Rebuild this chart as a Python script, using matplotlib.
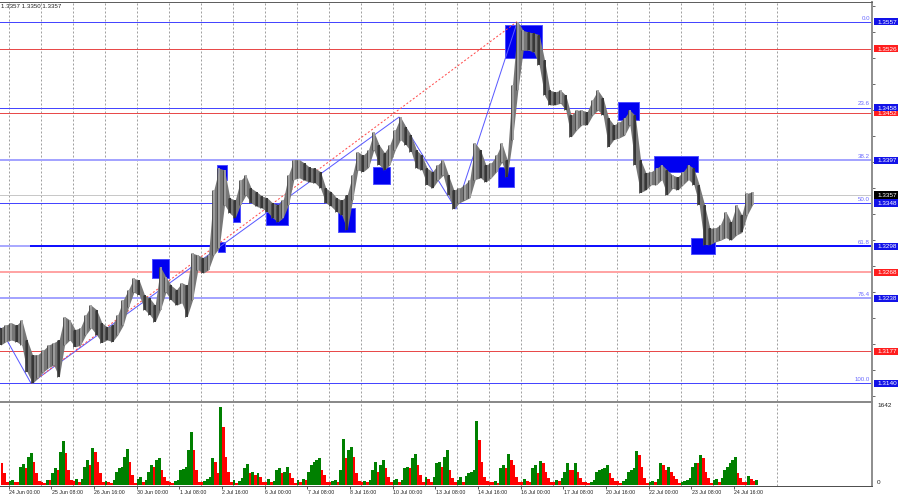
import matplotlib
matplotlib.use('Agg')
import matplotlib.pyplot as plt
import matplotlib.transforms as mtransforms
from matplotlib.patches import Rectangle

# ---------------- data ----------------
# price bars: 4-hour blocks, hours counted from 24 Jun 00:00 (weekends skipped)
bar_start_hour = -8
bar_hours = 4
highs = [1.3204, 1.3207,
         1.3210, 1.3207, 1.3213, 1.3190, 1.3173, 1.3173,
         1.3178, 1.3184, 1.3187, 1.3190, 1.3217, 1.3213,
         1.3202, 1.3204, 1.3219, 1.3230, 1.3225, 1.3210,
         1.3205, 1.3207, 1.3219, 1.3236, 1.3248, 1.3261,
         1.3259, 1.3242, 1.3238, 1.3230, 1.3274, 1.3263,
         1.3253, 1.3248, 1.3256, 1.3253, 1.3290, 1.3288,
         1.3285, 1.3288, 1.3363, 1.3388, 1.3386, 1.3354,
         1.3351, 1.3374, 1.3380, 1.3365, 1.3361, 1.3356,
         1.3354, 1.3348, 1.3346, 1.3351, 1.3380, 1.3398,
         1.3398, 1.3394, 1.3389, 1.3388, 1.3384, 1.3365,
         1.3361, 1.3354, 1.3351, 1.3357, 1.3380, 1.3407,
         1.3403, 1.3409, 1.3430, 1.3415, 1.3406, 1.3415,
         1.3432, 1.3447, 1.3436, 1.3426, 1.3409, 1.3403,
         1.3388, 1.3384, 1.3392, 1.3398, 1.3380, 1.3363,
         1.3365, 1.3369, 1.3375, 1.3417, 1.3409, 1.3392,
         1.3394, 1.3403, 1.3417, 1.3398, 1.3484, 1.3557,
         1.3547, 1.3545, 1.3544, 1.3542, 1.3513, 1.3478,
         1.3476, 1.3478, 1.3472, 1.3449, 1.3455, 1.3455,
         1.3453, 1.3467, 1.3478, 1.3469, 1.3446, 1.3438,
         1.3441, 1.3446, 1.3455, 1.3449, 1.3398, 1.3383,
         1.3384, 1.3388, 1.3392, 1.3386, 1.3380, 1.3378,
         1.3384, 1.3392, 1.3388, 1.3369, 1.3346, 1.3319,
         1.3319, 1.3323, 1.3338, 1.3326, 1.3346, 1.3334,
         1.3359, 1.3361]
lows = [1.3184, 1.3188,
        1.3190, 1.3188, 1.3184, 1.3153, 1.3140, 1.3146,
        1.3153, 1.3158, 1.3161, 1.3147, 1.3184, 1.3190,
        1.3182, 1.3184, 1.3196, 1.3204, 1.3196, 1.3187,
        1.3190, 1.3188, 1.3196, 1.3207, 1.3228, 1.3245,
        1.3242, 1.3225, 1.3219, 1.3211, 1.3225, 1.3245,
        1.3236, 1.3230, 1.3233, 1.3217, 1.3236, 1.3271,
        1.3267, 1.3271, 1.3288, 1.3296, 1.3346, 1.3336,
        1.3331, 1.3346, 1.3357, 1.3348, 1.3344, 1.3342,
        1.3338, 1.3331, 1.3326, 1.3331, 1.3346, 1.3375,
        1.3377, 1.3374, 1.3372, 1.3371, 1.3365, 1.3348,
        1.3344, 1.3338, 1.3334, 1.3317, 1.3351, 1.3386,
        1.3384, 1.3389, 1.3409, 1.3392, 1.3386, 1.3392,
        1.3409, 1.3421, 1.3415, 1.3407, 1.3388, 1.3386,
        1.3369, 1.3365, 1.3374, 1.3380, 1.3357, 1.3341,
        1.3348, 1.3351, 1.3354, 1.3375, 1.3377, 1.3372,
        1.3377, 1.3384, 1.3395, 1.3378, 1.3421, 1.3478,
        1.3524, 1.3524, 1.3522, 1.3507, 1.3472, 1.3461,
        1.3461, 1.3463, 1.3455, 1.3424, 1.3432, 1.3438,
        1.3438, 1.3449, 1.3455, 1.3449, 1.3413, 1.3421,
        1.3423, 1.3426, 1.3438, 1.3392, 1.3360, 1.3363,
        1.3369, 1.3369, 1.3375, 1.3357, 1.3365, 1.3363,
        1.3369, 1.3375, 1.3369, 1.3346, 1.3300, 1.3300,
        1.3303, 1.3305, 1.3308, 1.3305, 1.3311, 1.3314,
        1.3334, 1.3346]

# tick volume: 2-hour blocks
vol_start_hour = -6
vol_hours = 2
volumes = [450, 240, 70,
           90, 105, 70, 70, 380, 437, 345, 590, 660, 485, 240, 90,
           70, 50, 105, 105, 240, 345, 310, 690, 920, 660, 310, 105,
           90, 120, 70, 120, 380, 520, 415, 760, 690, 485, 240, 70,
           90, 70, 50, 105, 280, 345, 380, 590, 740, 485, 210, 50,
           120, 160, 70, 105, 280, 415, 380, 520, 555, 310, 175, 90,
           70, 50, 90, 105, 310, 330, 365, 730, 1100, 730, 310, 70,
           70, 90, 120, 175, 555, 485, 240, 1628, 1210, 590, 280, 70,
           105, 50, 90, 140, 345, 430, 240, 280, 210, 255, 175, 70,
           70, 120, 70, 90, 310, 345, 240, 280, 365, 240, 140, 50,
           105, 70, 120, 105, 280, 415, 485, 520, 555, 310, 210, 70,
           70, 90, 105, 70, 310, 950, 555, 730, 780, 590, 240, 90,
           70, 90, 70, 105, 310, 485, 280, 415, 520, 345, 175, 70,
           105, 120, 70, 105, 345, 380, 345, 555, 645, 415, 210, 70,
           160, 120, 70, 175, 450, 485, 380, 590, 730, 310, 140, 70,
           105, 160, 70, 185, 240, 280, 310, 1330, 935, 485, 175, 90,
           70, 70, 90, 50, 345, 415, 345, 640, 520, 415, 160, 70,
           70, 120, 90, 70, 345, 415, 240, 500, 450, 280, 140, 70,
           70, 105, 90, 140, 280, 465, 310, 310, 465, 280, 140, 70,
           70, 50, 70, 105, 280, 310, 330, 345, 410, 240, 140, 90,
           90, 50, 90, 120, 280, 310, 345, 700, 625, 380, 140, 50,
           70, 90, 70, 120, 465, 415, 310, 380, 280, 185, 120, 50,
           70, 90, 105, 140, 380, 450, 450, 625, 555, 280, 140, 50,
           105, 120, 70, 140, 310, 380, 450, 520, 590, 240, 140, 70,
           70, 185, 120, 90, 105]
vol_max_label = 1642

day_start_hours = list(range(0, 577, 24))
date_label_hours = [32 * i for i in range(18)]
date_labels = ['24 Jun 00:00', '25 Jun 08:00', '26 Jun 16:00', '30 Jun 00:00',
               '1 Jul 08:00', '2 Jul 16:00', '6 Jul 00:00', '7 Jul 08:00',
               '8 Jul 16:00', '10 Jul 00:00', '13 Jul 08:00', '14 Jul 16:00',
               '16 Jul 00:00', '17 Jul 08:00', '20 Jul 16:00', '22 Jul 00:00',
               '23 Jul 08:00', '24 Jul 16:00']

price_ticks = [1.3575, 1.3545, 1.3515, 1.3485, 1.3455, 1.3425, 1.3395, 1.3365,
               1.3335, 1.3305, 1.3275, 1.3245, 1.3215, 1.3185, 1.3155, 1.3125]

fib_prices = [1.3557, 1.3458, 1.3397, 1.3348, 1.3298, 1.3238, 1.3140]
fib_names = ['0.0', '23.6', '38.2', '50.0', '61.8', '76.4', '100.0']

# horizontal levels: price, colour, width(px)
level_prices = [1.3557, 1.3526, 1.3458, 1.3452, 1.3397, 1.3357, 1.3348,
                1.3298, 1.3268, 1.3238, 1.3177, 1.3140]
level_colors = ['#4545ff', '#e84a4a', '#4545ff', '#e84a4a', '#a4a4ff', '#c8c8c8',
                '#4545ff', '#aaaaff', '#ffa4a4', '#a4a4ff', '#e84a4a', '#4545ff']
level_widths = [1, 1, 1, 1, 2, 1, 1, 2, 2, 2, 1, 1]
support_price = 1.3298
support_start_hour = 16

# price-axis tags: price, background
tag_prices = [1.3557, 1.3526, 1.3452, 1.3458, 1.3397, 1.3357, 1.3348,
              1.3298, 1.3268, 1.3238, 1.3177, 1.3140]
tag_colors = ['#1212e8', '#ff1e1e', '#ff1e1e', '#1212e8', '#1212e8', '#000000',
              '#1212e8', '#1212e8', '#ff1e1e', '#1212e8', '#ff1e1e', '#1212e8']

# blue zones: start hour, end hour, low price, high price
zone_h0 = [107.6, 156.4, 157.1, 168.4, 193.1, 247.1, 273.4, 367.1, 372.4, 457.1, 484.1, 511.9]
zone_h1 = [120.4, 163.9, 162.4, 173.6, 209.6, 259.9, 286.1, 379.1, 400.1, 472.9, 517.1, 529.9]
zone_lo = [1.3262, 1.3375, 1.3291, 1.3326, 1.3323, 1.3315, 1.3370, 1.3366, 1.3515, 1.3444, 1.3384, 1.3289]
zone_hi = [1.3283, 1.3392, 1.3303, 1.3346, 1.3348, 1.3342, 1.3390, 1.3390, 1.3553, 1.3464, 1.3402, 1.3308]

# zigzag swing points
zig_hours = [-6.4, 16.9, 292.9, 335.6, 381.4]
zig_prices = [1.3204, 1.3140, 1.3447, 1.3341, 1.3556]

# fibonacci anchor (dashed trend)
fib_hours = [16.9, 381.4]
fib_anchor_prices = [1.3140, 1.3557]

ohlc_text = '1.3357 1.3350 1.3357'

# ---------------- figure ----------------
W, H = 900, 500
fig = plt.figure(figsize=(9, 5), dpi=100)
fig.patch.set_facecolor('white')
FONT = 'Liberation Sans'


def px_axes(x0, y0, x1, y1):
    return fig.add_axes([x0 / W, 1 - y1 / H, (x1 - x0) / W, (y1 - y0) / H])


ax = px_axes(0, 2, 872, 401)
axv = px_axes(0, 402, 872, 486)

XMIN, XMAX = -6.375, 647.6
for a in (ax, axv):
    a.set_xlim(XMIN, XMAX)
    a.set_facecolor('white')
ax.set_ylim(1.31196, 1.35797)
axv.set_ylim(-21, 1725)

PX = 0.72  # points per pixel

# grid (daily dotted lines)
for a in (ax, axv):
    for h in day_start_hours:
        a.axvline(h, color='#a0a0a0', lw=1 * PX, ls=(0, (2, 2)), zorder=0.5)

# horizontal levels
for p, c, w in zip(level_prices, level_colors, level_widths):
    ax.axhline(p, color=c, lw=w * PX, zorder=1)
ax.plot([support_start_hour, XMAX], [support_price, support_price],
        color='#1010ff', lw=2 * PX, zorder=1.1, solid_capstyle='butt')

# fib labels
tp = mtransforms.blended_transform_factory(ax.transAxes, ax.transData)
for p, n in zip(fib_prices, fib_names):
    ax.text(0.9975, p + 0.00012, n, transform=tp,
            ha='right', va='bottom', fontsize=4.4, color='#6a6aff', family=FONT, zorder=2)

# blue zones
for h0, h1, lo, hi in zip(zone_h0, zone_h1, zone_lo, zone_hi):
    ax.add_patch(Rectangle((h0, lo), h1 - h0, hi - lo, facecolor='#0000f0',
                           edgecolor='#5050ff', lw=1 * PX, zorder=1.5))

# zigzag and fib trend
ax.plot(zig_hours, zig_prices, color='#5a5aff', lw=1 * PX, zorder=1.6)
ax.plot(fib_hours, fib_anchor_prices, color='#ff4a4a', lw=1 * PX, ls=(0, (2, 2)), zorder=1.6)

# price bars: band plus dark/light strokes
centers = [bar_start_hour + bar_hours * i + bar_hours / 2 for i in range(len(highs))]
bar_cols = []
prev_mid = None
for hi, lo in zip(highs, lows):
    mid = (hi + lo) / 2
    bar_cols.append('#a0a0a0' if (prev_mid is not None and mid > prev_mid) else '#303030')
    prev_mid = mid
ax.fill_between(centers, lows, highs, color='#777777', lw=0, zorder=2.8)
ax.vlines(centers, lows, highs, colors=bar_cols, lw=1.8 * PX, zorder=3)
ax.vlines([c - 1.3 for c in centers], lows, highs, colors='#4a4a4a', lw=0.9 * PX, zorder=3)

# volume bars
vcent = [vol_start_hour + vol_hours * i + vol_hours / 2 for i in range(len(volumes))]
vcols = []
for i, v in enumerate(volumes):
    vcols.append('#008000' if (i > 0 and v > volumes[i - 1]) else '#ff0000')
axv.bar(vcent, volumes, width=vol_hours, color=vcols, linewidth=0, zorder=2)

# spines
for a in (ax, axv):
    for s in a.spines.values():
        s.set_visible(False)
ax.spines['top'].set_visible(True)
ax.spines['top'].set_color('#606060')
ax.spines['top'].set_linewidth(1 * PX)
ax.spines['right'].set_visible(True)
ax.spines['right'].set_color('#909090')
ax.spines['right'].set_linewidth(2 * PX)
axv.spines['top'].set_visible(True)
axv.spines['top'].set_color('#8a8a8a')
axv.spines['top'].set_linewidth(2 * PX)
axv.spines['right'].set_visible(True)
axv.spines['right'].set_color('#909090')
axv.spines['right'].set_linewidth(2 * PX)
axv.spines['bottom'].set_visible(True)
axv.spines['bottom'].set_color('#505050')
axv.spines['bottom'].set_linewidth(1 * PX)

# price axis ticks
ax.tick_params(left=False, bottom=False, labelleft=False, labelbottom=False)
ax.yaxis.tick_right()
ax.set_yticks(price_ticks)
ax.set_yticklabels([f'{v:.4f}' for v in price_ticks], fontsize=4.6, family=FONT, color='#202020')
ax.tick_params(axis='y', direction='out', length=2.5, width=0.6, color='#505050', pad=1.5)
ax.set_xticks([])

# volume axis
axv.set_yticks([])
axv.tick_params(left=False, labelleft=False)
axv.set_xticks(date_label_hours)
axv.tick_params(axis='x', direction='out', length=2.2, width=0.6, color='#404040', labelbottom=False)
tv = mtransforms.blended_transform_factory(axv.transAxes, axv.transData)
axv.text(1.006, vol_max_label, str(vol_max_label), transform=tv, ha='left', va='center',
         fontsize=4.6, family=FONT, color='#202020')
axv.text(1.006, 0, '0', transform=tv, ha='left', va='bottom', fontsize=4.6, family=FONT, color='#202020')

# date labels
td = mtransforms.blended_transform_factory(axv.transData, axv.transAxes)
for h, lab in zip(date_label_hours, date_labels):
    axv.text(h + 0.4, -0.08, lab, transform=td, ha='left', va='center',
             fontsize=3.8, family=FONT, color='#202020', clip_on=False)

# price tags on right axis
tag_half = 0.00042
for p, c in zip(tag_prices, tag_colors):
    ax.add_patch(Rectangle((874 / 872, p - tag_half), 24 / 872, 2 * tag_half, transform=tp,
                           facecolor=c, edgecolor='none', clip_on=False, zorder=6))
    ax.text(877 / 872, p, f'{p:.4f}', transform=tp, ha='left', va='center_baseline',
            fontsize=4.6, family=FONT, color='white', clip_on=False, zorder=7)

# header text
fig.text(1 / W, 1 - 6 / H, ohlc_text, ha='left', va='center', fontsize=4.4,
         family=FONT, color='#202020')

fig.savefig('out.png', dpi=100, facecolor='white')
